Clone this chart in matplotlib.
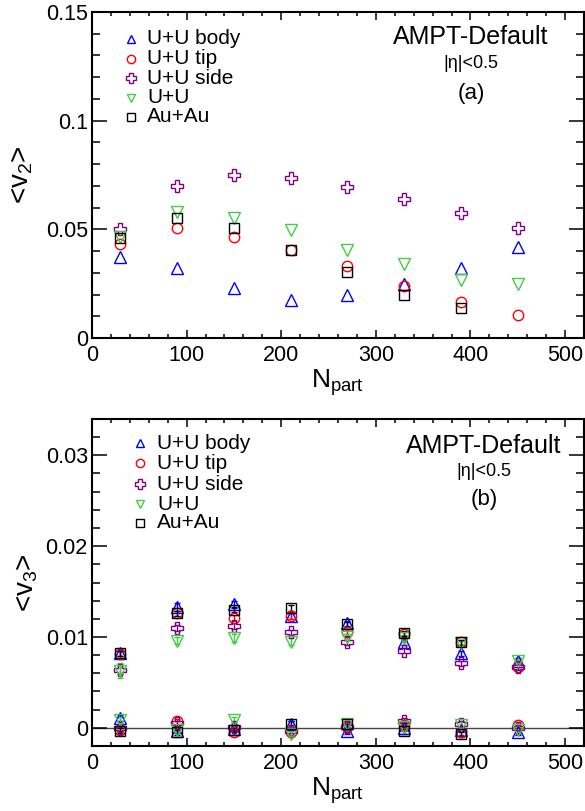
import matplotlib
matplotlib.use("Agg")
import matplotlib.pyplot as plt
from matplotlib.ticker import MultipleLocator

plt.rcParams['font.family'] = ['Liberation Sans', 'DejaVu Sans']
plt.rcParams['mathtext.fontset'] = 'custom'
plt.rcParams['mathtext.rm'] = 'Liberation Sans'
plt.rcParams['mathtext.it'] = 'Liberation Sans'

# ---------------- data ----------------
npart = [30, 90, 150, 210, 270, 330, 390, 450]
npart_au = [30, 90, 150, 210, 270, 330, 390]

labels = ["U+U body", "U+U tip", "U+U side", "U+U", "Au+Au"]

# panel (a) <v2>
v2_body = [0.0373, 0.0324, 0.0228, 0.0176, 0.0198, 0.0250, 0.0324, 0.0420]
v2_tip = [0.0434, 0.0506, 0.0463, 0.0407, 0.0330, 0.0241, 0.0164, 0.0106]
v2_side = [0.0500, 0.0699, 0.0748, 0.0736, 0.0696, 0.0639, 0.0577, 0.0508]
v2_uu = [0.0463, 0.0580, 0.0554, 0.0495, 0.0404, 0.0341, 0.0268, 0.0247]
v2_au = [0.0461, 0.0552, 0.0505, 0.0407, 0.0302, 0.0198, 0.0139]

# panel (b) <v3>, upper set
v3_body = [0.0082, 0.0133, 0.0136, 0.0123, 0.0115, 0.0094, 0.0082, 0.0074]
v3_tip = [0.0081, 0.0126, 0.0121, 0.0123, 0.0106, 0.0103, 0.0094, 0.0067]
v3_side = [0.0064, 0.0110, 0.0112, 0.0105, 0.0094, 0.0085, 0.0071, 0.0067]
v3_uu = [0.0063, 0.0096, 0.0099, 0.0095, 0.0100, 0.0099, 0.0093, 0.0074]
v3_au = [0.0082, 0.0126, 0.0130, 0.0132, 0.0114, 0.0104, 0.0094]
v3_body_err = [0.0003, 0.0004, 0.0004, 0.0003, 0.0003, 0.0003, 0.0003, 0.0003]
v3_tip_err = [0.0005, 0.0003, 0.0003, 0.0003, 0.0003, 0.0003, 0.0003, 0.0003]
v3_side_err = [0.0005, 0.0003, 0.0003, 0.0003, 0.0003, 0.0003, 0.0003, 0.0003]
v3_uu_err = [0.0008, 0.0004, 0.0004, 0.0004, 0.0003, 0.0003, 0.0003, 0.0003]
v3_au_err = [0.0003, 0.0003, 0.0003, 0.0003, 0.0003, 0.0003, 0.0003]

# panel (b) <v3>, lower set (around zero)
v3z_body = [0.0011, -0.0003, -0.0001, 0.0004, -0.0004, 0.0000, -0.0002, -0.0005]
v3z_tip = [-0.0002, 0.0007, -0.0005, -0.0005, 0.0001, 0.0003, -0.0005, 0.0003]
v3z_side = [0.0000, 0.0005, 0.0001, -0.0003, 0.0001, 0.0008, 0.0004, 0.0000]
v3z_uu = [0.0009, -0.0002, 0.0009, -0.0007, 0.0004, 0.0001, 0.0003, -0.0002]
v3z_au = [-0.0003, -0.0005, -0.0002, 0.0004, 0.0004, -0.0004, -0.0007]
v3z_err = [0.0003, 0.0003, 0.0003, 0.0003, 0.0003, 0.0003, 0.0003, 0.0003]

colors = ["#0000ff", "#ff0000", "#800080", "#44cc44", "#000000"]
markers = ["^", "o", "P", "v", "s"]
msizes = [8, 7.5, 9, 8, 7.5]

W, H = 585, 811
fig = plt.figure(figsize=(W / 100, H / 100), dpi=100)

def px_axes(left, top, right, bottom):
    return fig.add_axes([left / W, 1 - bottom / H, (right - left) / W, (bottom - top) / H])

ax1 = px_axes(92, 12, 584, 338)
ax2 = px_axes(92, 419, 584, 746)

def style(ax, ymaj, ymin):
    ax.set_xlim(0, 520)
    ax.xaxis.set_major_locator(MultipleLocator(100))
    ax.xaxis.set_minor_locator(MultipleLocator(20))
    ax.yaxis.set_major_locator(MultipleLocator(ymaj))
    ax.yaxis.set_minor_locator(MultipleLocator(ymin))
    ax.tick_params(axis='both', which='both', direction='in', top=True, right=True,
                   labelsize=15.5, width=1.1, colors='black')
    ax.tick_params(axis='x', which='major', length=6, pad=5)
    ax.tick_params(axis='x', which='minor', length=3)
    ax.tick_params(axis='y', which='major', length=11, pad=3)
    ax.tick_params(axis='y', which='minor', length=5.5)
    for s in ax.spines.values():
        s.set_linewidth(1.5)
    ax.set_xlabel(r"N$_{\mathrm{part}}$", fontsize=19, labelpad=1)

def fmt(v, pos=None):
    if abs(v) < 1e-12:
        return "0"
    s = f"{v:.3f}".rstrip('0')
    return s

from matplotlib.ticker import FuncFormatter

# ---------- panel (a) ----------
style(ax1, 0.05, 0.01)
ax1.set_ylim(0, 0.15)
ax1.yaxis.set_major_formatter(FuncFormatter(fmt))
series_a = [(npart, v2_body), (npart, v2_tip), (npart, v2_side), (npart, v2_uu), (npart_au, v2_au)]
for (xx, yy), c, m, ms in zip(series_a, colors, markers, msizes):
    ax1.plot(xx, yy, linestyle='none', marker=m, ms=ms, mfc='none', mec=c, mew=1.0)
ax1.set_ylabel(r"<v$_2$>", fontsize=20, labelpad=8)

# ---------- panel (b) ----------
style(ax2, 0.01, 0.002)
ax2.set_ylim(-0.002, 0.034)
ax2.yaxis.set_major_formatter(FuncFormatter(fmt))
ax2.axhline(0, color='#444444', lw=1.0, zorder=1)
series_b = [(npart, v3_body, v3_body_err, v3z_body), (npart, v3_tip, v3_tip_err, v3z_tip),
            (npart, v3_side, v3_side_err, v3z_side), (npart, v3_uu, v3_uu_err, v3z_uu),
            (npart_au, v3_au, v3_au_err, v3z_au)]
for (xx, yy, ee, zz), c, m, ms in zip(series_b, colors, markers, msizes):
    ax2.errorbar(xx, yy, yerr=ee, linestyle='none', marker=m, ms=ms, mfc='none', mec=c,
                 mew=1.0, ecolor=c, elinewidth=1.0, capsize=2.5, capthick=1.0, zorder=3)
    ax2.errorbar(xx, zz, yerr=v3z_err[:len(xx)], linestyle='none', marker=m, ms=ms, mfc='none', mec=c,
                 mew=1.0, ecolor=c, elinewidth=1.0, capsize=2.5, capthick=1.0, zorder=3)
ax2.set_ylabel(r"<v$_3$>", fontsize=20, labelpad=4)

# ---------- legends & annotations ----------
def legend(ax, mx, tx, rows):
    # mx, tx: pixel x of marker and text; rows: pixel y of rows (figure px)
    for lab, c, m, ms, ry in zip(labels, colors, markers, msizes, rows):
        fx = mx / W
        fy = 1 - ry / H
        fig.lines.append(plt.Line2D([fx], [fy], transform=fig.transFigure, linestyle='none',
                                    marker=m, ms=ms * 0.8, mfc='none', mec=c, mew=1.0))
        fig.text(tx / W, fy, lab, fontsize=15, va='center', ha='left')

legend(ax1, 131, 147, [38.5, 58.5, 78, 97.5, 117])
legend(ax2, 140, 157, [443, 463.5, 484, 504, 523])

def annot(cx, ys, letter):
    fig.text(cx / W, 1 - ys[0] / H, "AMPT-Default", fontsize=18, ha='center', va='center')
    fig.text(cx / W, 1 - ys[1] / H, "|\u03b7|<0.5", fontsize=13, ha='center', va='center')
    fig.text(cx / W, 1 - ys[2] / H, letter, fontsize=16, ha='center', va='center')

annot(471, [37, 63, 93], "(a)")
annot(484, [446, 472, 500], "(b)")

fig.savefig("out.png", dpi=100)
